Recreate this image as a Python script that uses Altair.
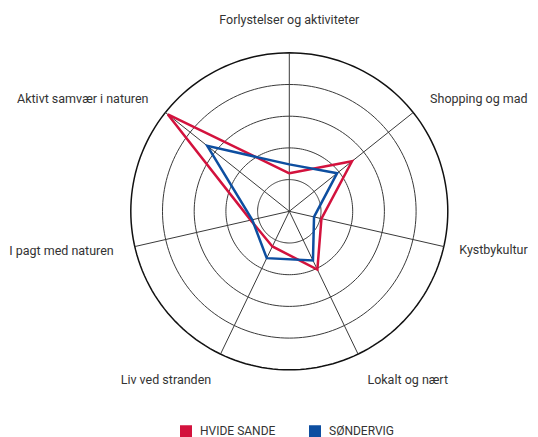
import altair as alt
import numpy as np
import pandas as pd

# ---- data ----
axis_labels = [
    "Forlystelser og aktiviteter",
    "Shopping og mad",
    "Kystbykultur",
    "Lokalt og nært",
    "Liv ved stranden",
    "I pagt med naturen",
    "Aktivt samvær i naturen",
]
hvide_sande = [1.2, 2.53, 1.04, 2.04, 1.23, 1.25, 4.9]
sondervig = [1.48, 1.93, 0.8, 1.72, 1.64, 1.2, 3.31]
series_names = ["HVIDE SANDE", "SØNDERVIG"]
series_colors = ["#d3123d", "#0d4ea0"]
ring_values = [1, 2, 3, 4, 5]
max_value = 5

FONT = "Roboto"
n = len(axis_labels)
angles = np.arange(n) * 2 * np.pi / n  # clockwise from top

# series polygons (closed)
rows = []
for name, vals in zip(series_names, [hvide_sande, sondervig]):
    for i in range(n + 1):
        k = i % n
        rows.append({"series": name, "order": i,
                     "x": vals[k] * np.sin(angles[k]),
                     "y": vals[k] * np.cos(angles[k])})
series_df = pd.DataFrame(rows)

# rings
ring_rows = []
theta = np.linspace(0, 2 * np.pi, 181)
for r in ring_values:
    for j, t in enumerate(theta):
        ring_rows.append({"ring": r, "order": j, "x": r * np.sin(t), "y": r * np.cos(t),
                          "outer": r == max_value})
ring_df = pd.DataFrame(ring_rows)

# spokes
spoke_df = pd.DataFrame({
    "x": 0.0, "y": 0.0,
    "x2": max_value * np.sin(angles),
    "y2": max_value * np.cos(angles),
})

# labels
s = np.sin(angles)
c = np.cos(angles)
lr = np.where(s > 0.9, 5.5, 5.68)
lab_df = pd.DataFrame({
    "label": axis_labels,
    "x": lr * s,
    "y": lr * c + np.where(c > 0.8, 0.35, np.where(c < -0.8, -0.2, 0.0)),
    "align": np.where(s > 0.1, "left", np.where(s < -0.1, "right", "center")),
})

# ---- scales: 1 unit = 31.7 px, centre at plot (281.3, 203.3) ----
W, H = 522, 429
U = 31.7
cx, cy = 281.3, 203.3
xs = alt.Scale(domain=[-cx / U, (W - cx) / U], nice=False, zero=False)
ys = alt.Scale(domain=[-(H - cy) / U, cy / U], nice=False, zero=False)
X = lambda f="x": alt.X(f"{f}:Q", scale=xs, axis=None)
Y = lambda f="y": alt.Y(f"{f}:Q", scale=ys, axis=None)

inner = alt.Chart(ring_df).transform_filter("!datum.outer").mark_line(
    color="#3a3a3a", strokeWidth=1
).encode(x=X(), y=Y(), detail="ring:N", order="order:Q")

outer = alt.Chart(ring_df).transform_filter("datum.outer").mark_line(
    color="#111111", strokeWidth=1.5
).encode(x=X(), y=Y(), detail="ring:N", order="order:Q")

spokes = alt.Chart(spoke_df).mark_rule(color="#3a3a3a", strokeWidth=1).encode(
    x=X(), y=Y(), x2="x2:Q", y2="y2:Q"
)

lines = alt.Chart(series_df).mark_line(strokeWidth=2.5).encode(
    x=X(), y=Y(), order="order:Q",
    color=alt.Color("series:N", scale=alt.Scale(domain=series_names, range=series_colors),
                    legend=alt.Legend(
                        title=None, orient="none", direction="horizontal",
                        legendX=172, legendY=417, symbolType="square", symbolSize=1,
                        symbolStrokeWidth=11, labelFont=FONT,
                        labelFontSize=12, labelColor="#333333", labelOffset=8,
                        columnPadding=16, padding=0,
                    )),
)

texts = []
for al in ["left", "right", "center"]:
    texts.append(
        alt.Chart(lab_df).transform_filter(f"datum.align == '{al}'").mark_text(
            align=al, baseline="middle", font=FONT, fontSize=12.5, color="#333333"
        ).encode(x=X(), y=Y(), text="label:N")
    )

chart = alt.layer(inner, outer, spokes, lines, *texts).properties(
    width=W, height=H, padding=0, autosize=alt.AutoSizeParams(type="none")
).configure_view(stroke=None)

chart.save("out.html", embed_options={"renderer": "svg", "actions": False})
